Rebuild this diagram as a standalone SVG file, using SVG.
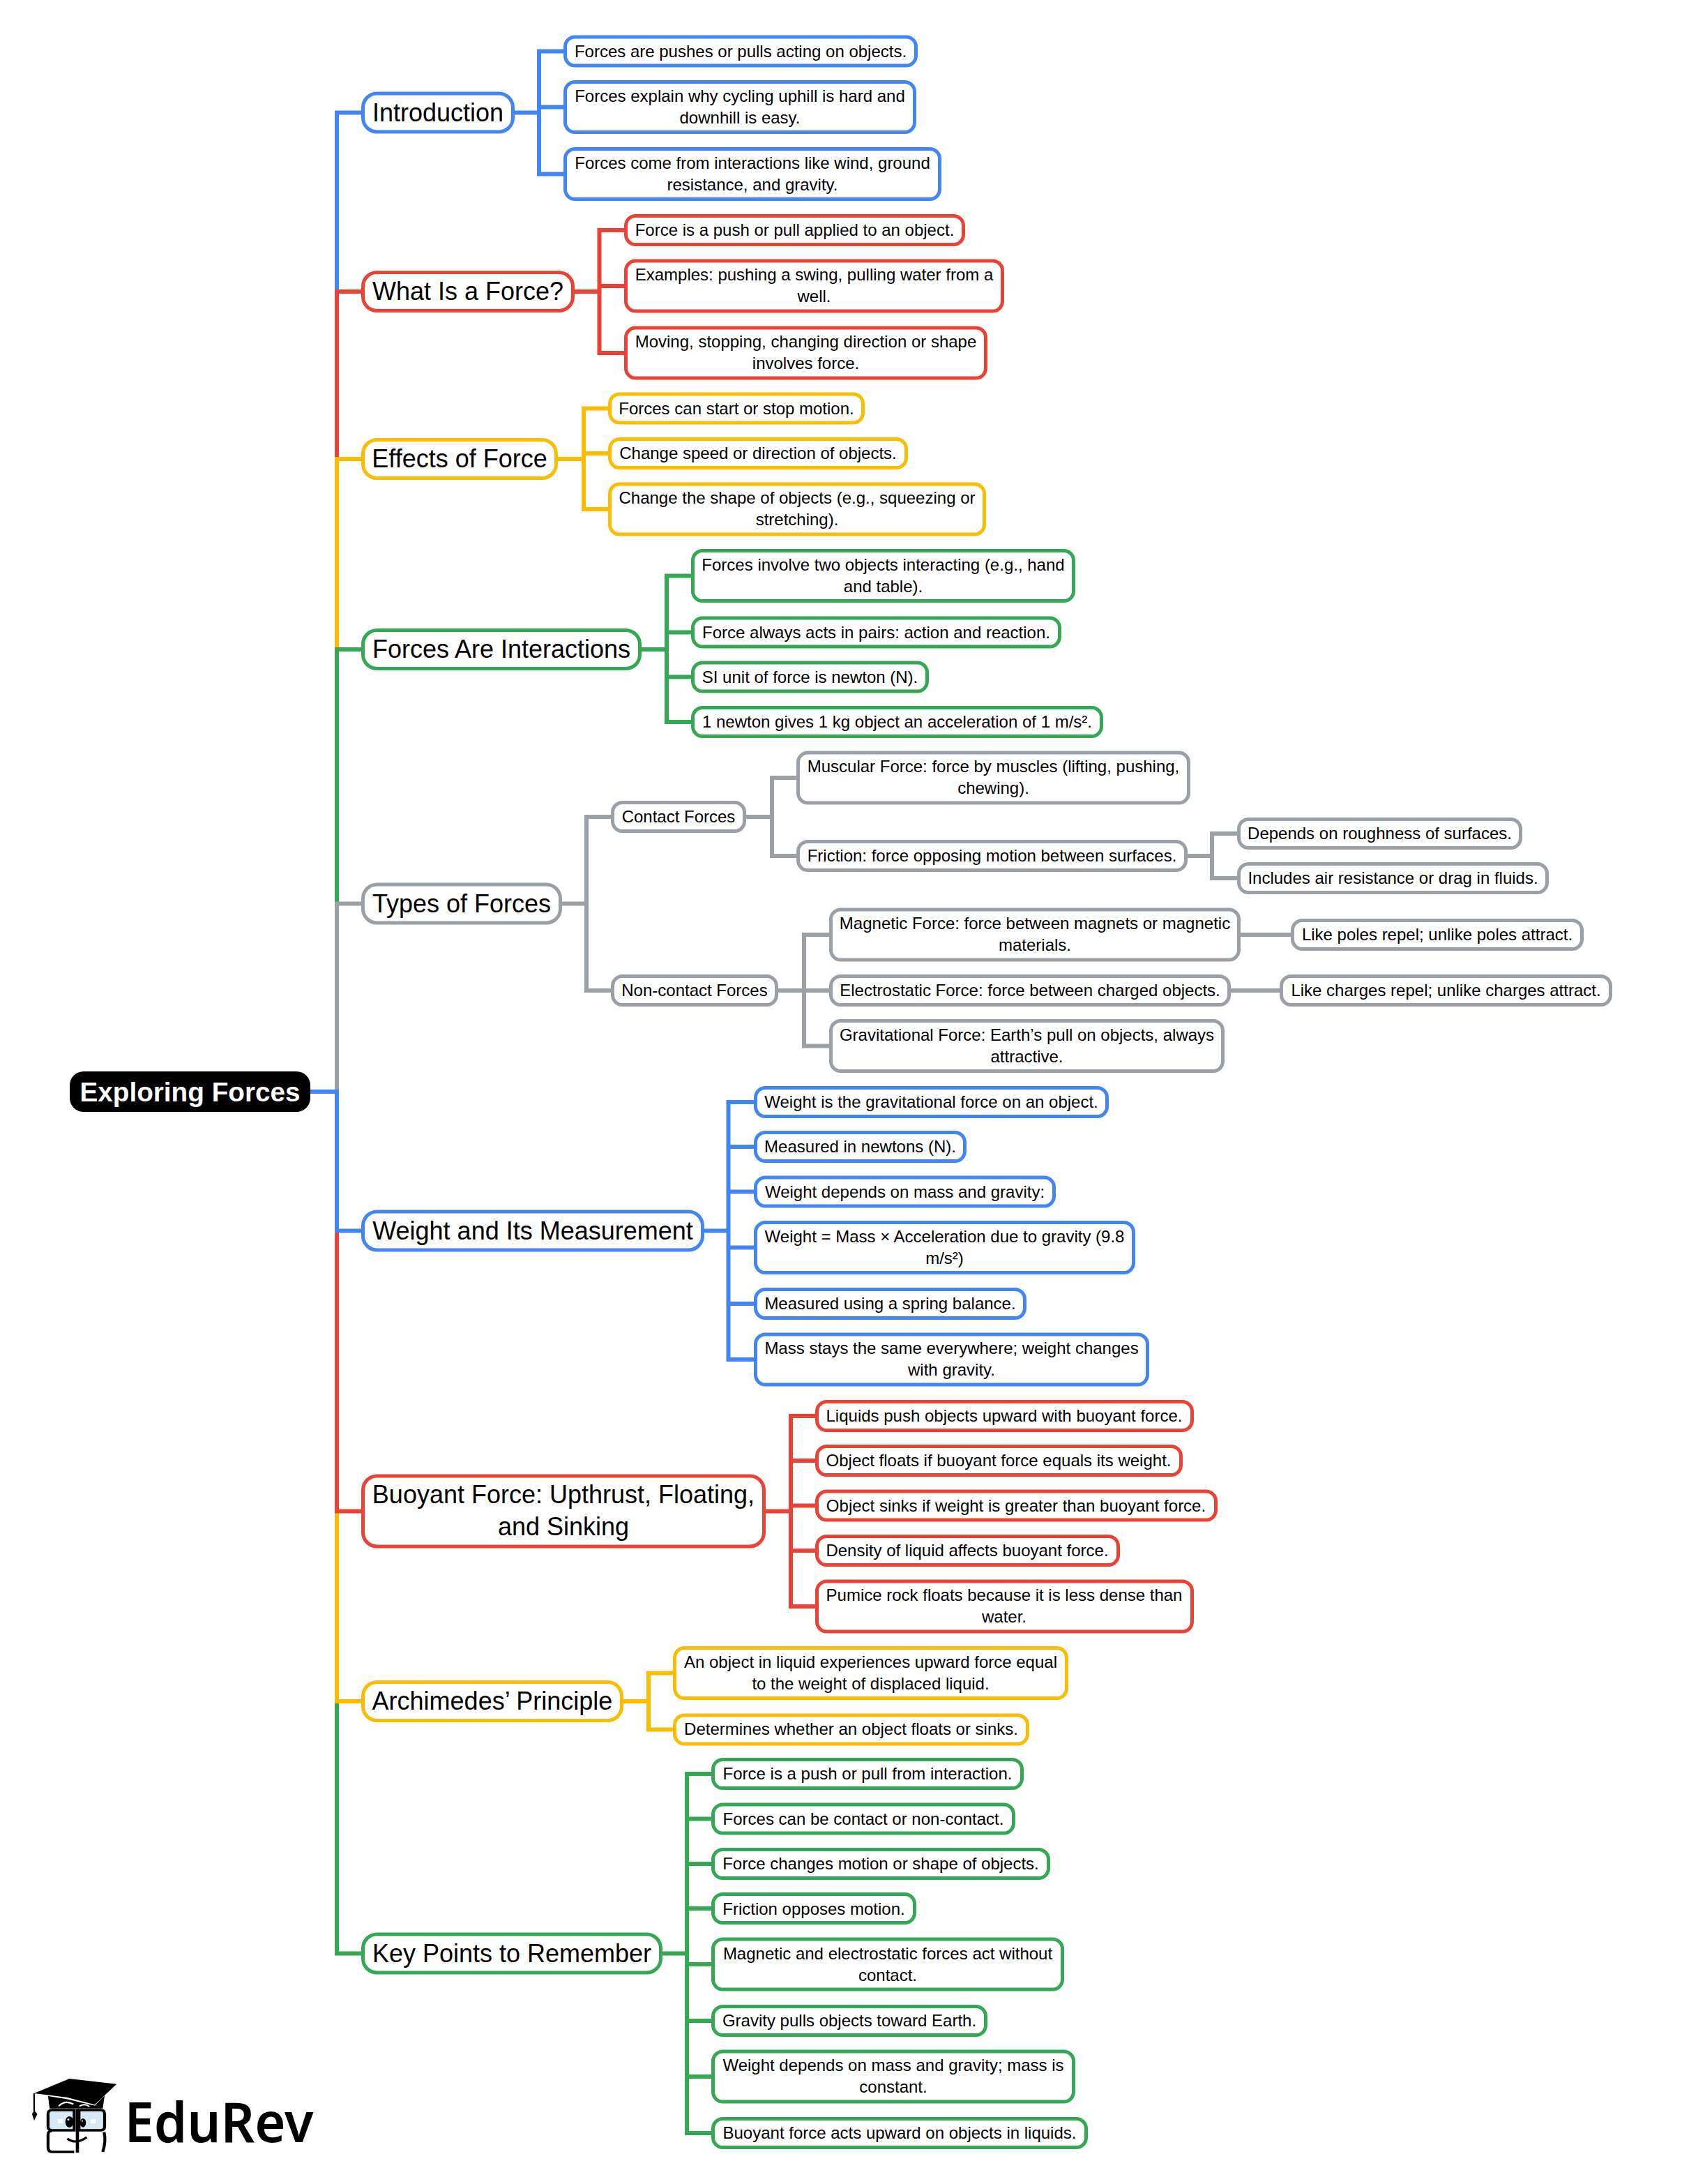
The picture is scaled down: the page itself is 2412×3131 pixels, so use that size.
<svg xmlns="http://www.w3.org/2000/svg" width="2412" height="3131" viewBox="0 0 2412 3131">
<style>
text{font-family:"Liberation Sans",Arial,sans-serif;font-size:24px;fill:#000;text-anchor:middle}
rect{fill:#fff;stroke-width:5;rx:14px;ry:14px}
.t1 rect{rx:20px;ry:20px}
.t1 text{font-size:36px}
.c path{fill:none;stroke-width:6;stroke-linejoin:miter}
.b rect{stroke:#4285F4}.r rect{stroke:#EA4335}.y rect{stroke:#FBBC04}.g rect{stroke:#34A853}.k rect{stroke:#9AA0A6}
path.b{stroke:#4285F4}path.r{stroke:#EA4335}path.y{stroke:#FBBC04}path.g{stroke:#34A853}path.k{stroke:#9AA0A6}
</style>
<rect x="12" y="2948" width="478" height="165" style="fill:#fefefe;stroke:none;rx:0;ry:0"/>
<g id="connectors" class="c">
<path class="b" d="M483 1565V161.500H518M738 161.500H773M808 73.500H773V249.500H808M773 153.500H808"/>
<path class="r" d="M483 658V418H518M824 418H859.500M895 330H859.500V506H895M859.500 410H895"/>
<path class="y" d="M483 931V658H518M800 658H837M872 585.500H837V730H872M837 650H872"/>
<path class="g" d="M483 1295.500V931H518M920 931H956M991 825.500H956V1035H991M956 906.500H991M956 970.500H991"/>
<path class="k" d="M483 1565V1295.500H518M806 1295.500H841M876 1171H841V1420H876M1070 1171H1107M1142 1115H1107V1227H1142M1703 1227H1738M1774 1195H1738V1259H1774M1116 1420H1153M1189 1340H1153V1499.500H1189M1153 1420H1189M1779 1340H1851M1765 1420H1835"/>
<path class="g" d="M518 2800.500H483V2439M950 2800.500H985M1020 2543H985V3058H1020M985 2607.500H1020M985 2672H1020M985 2736H1020M985 2816H1020M985 2897H1020M985 2977H1020"/>
<path class="y" d="M518 2439H483V2166.500M894 2439H930M965 2398.500H930V2479.500H965"/>
<path class="r" d="M518 2166.500H483V1764.500M1098 2166.500H1134M1169 2030H1134V2303H1169M1134 2094H1169M1134 2158.500H1169M1134 2223H1169"/>
<path class="b" d="M445 1565H483V1764.500H518M1010 1764.500H1044.500M1081 1580H1044.500V1949H1081M1044.500 1644H1081M1044.500 1708.500H1081M1044.500 1788.500H1081M1044.500 1869H1081"/>
</g>
<g id="root"><rect x="100" y="1536" width="345" height="58" style="fill:#000;stroke:none;rx:20px;ry:20px"/><text x="272.500" y="1579" style="font-size:38.700px;font-weight:700;fill:#fff">Exploring Forces</text></g>

<g id="n1" class="t1 b"><rect x="520.500" y="134" width="215" height="55"/><text x="628" y="173.500">Introduction</text></g>
<g id="n1a" class="b"><rect x="810.500" y="53" width="503" height="41"/><text x="1062" y="81.500">Forces are pushes or pulls acting on objects.</text></g>
<g id="n1b" class="b"><rect x="810.500" y="117.500" width="501" height="72"/><text x="1061" y="145.500">Forces explain why cycling uphill is hard and</text><text x="1061" y="176.500">downhill is easy.</text></g>
<g id="n1c" class="b"><rect x="810.500" y="213.500" width="537" height="72"/><text x="1079" y="241.500">Forces come from interactions like wind, ground</text><text x="1079" y="272.500">resistance, and gravity.</text></g>

<g id="n2" class="t1 r"><rect x="520.500" y="390.500" width="301" height="55"/><text x="671" y="430">What Is a Force?</text></g>
<g id="n2a" class="r"><rect x="897.500" y="309.500" width="484" height="41"/><text x="1139.500" y="337.500">Force is a push or pull applied to an object.</text></g>
<g id="n2b" class="r"><rect x="897.500" y="374" width="540" height="72"/><text x="1167.500" y="402">Examples: pushing a swing, pulling water from a</text><text x="1167.500" y="433">well.</text></g>
<g id="n2c" class="r"><rect x="897.500" y="470" width="516" height="72"/><text x="1155.500" y="498">Moving, stopping, changing direction or shape</text><text x="1155.500" y="529">involves force.</text></g>

<g id="n3" class="t1 y"><rect x="520.500" y="630.500" width="277" height="55"/><text x="659" y="670">Effects of Force</text></g>
<g id="n3a" class="y"><rect x="874.500" y="565" width="363" height="41"/><text x="1056" y="593.500">Forces can start or stop motion.</text></g>
<g id="n3b" class="y"><rect x="874.500" y="629.500" width="425" height="41"/><text x="1087" y="658">Change speed or direction of objects.</text></g>
<g id="n3c" class="y"><rect x="874.500" y="694" width="537" height="72"/><text x="1143" y="722">Change the shape of objects (e.g., squeezing or</text><text x="1143" y="753">stretching).</text></g>

<g id="n4" class="t1 g"><rect x="520.500" y="903.500" width="397" height="55"/><text x="719" y="943">Forces Are Interactions</text></g>
<g id="n4a" class="g"><rect x="993.500" y="789.500" width="546" height="72"/><text x="1266.500" y="817.500">Forces involve two objects interacting (e.g., hand</text><text x="1266.500" y="848.500">and table).</text></g>
<g id="n4b" class="g"><rect x="993.500" y="886" width="526" height="41"/><text x="1256.500" y="914.500">Force always acts in pairs: action and reaction.</text></g>
<g id="n4c" class="g"><rect x="993.500" y="950" width="336" height="41"/><text x="1161.500" y="978.500">SI unit of force is newton (N).</text></g>
<g id="n4d" class="g"><rect x="993.500" y="1014.500" width="586" height="41"/><text x="1286.500" y="1043">1 newton gives 1 kg object an acceleration of 1 m/s².</text></g>

<g id="n5" class="t1 k"><rect x="520.500" y="1268" width="283" height="55"/><text x="662" y="1307.500">Types of Forces</text></g>
<g id="n5a" class="k"><rect x="878.500" y="1150.500" width="189" height="41"/><text x="973" y="1179">Contact Forces</text></g>
<g id="n5a1" class="k"><rect x="1144.500" y="1079" width="560" height="72"/><text x="1424.500" y="1107">Muscular Force: force by muscles (lifting, pushing,</text><text x="1424.500" y="1138">chewing).</text></g>
<g id="n5a2" class="k"><rect x="1144.500" y="1206.500" width="556" height="41"/><text x="1422.500" y="1235">Friction: force opposing motion between surfaces.</text></g>
<g id="n5a2a" class="k"><rect x="1776.500" y="1174.500" width="404" height="41"/><text x="1978.500" y="1203">Depends on roughness of surfaces.</text></g>
<g id="n5a2b" class="k"><rect x="1776.500" y="1238.500" width="442" height="41"/><text x="1997.500" y="1267">Includes air resistance or drag in fluids.</text></g>
<g id="n5b" class="k"><rect x="878.500" y="1399.500" width="235" height="41"/><text x="996" y="1428">Non-contact Forces</text></g>
<g id="n5b1" class="k"><rect x="1191.500" y="1304" width="585" height="72"/><text x="1484" y="1332">Magnetic Force: force between magnets or magnetic</text><text x="1484" y="1363">materials.</text></g>
<g id="n5b1a" class="k"><rect x="1853.500" y="1319.500" width="415" height="41"/><text x="2061" y="1348">Like poles repel; unlike poles attract.</text></g>
<g id="n5b2" class="k"><rect x="1191.500" y="1399.500" width="571" height="41"/><text x="1477" y="1428">Electrostatic Force: force between charged objects.</text></g>
<g id="n5b2a" class="k"><rect x="1837.500" y="1399.500" width="472" height="41"/><text x="2073.500" y="1428">Like charges repel; unlike charges attract.</text></g>
<g id="n5b3" class="k"><rect x="1191.500" y="1463.500" width="562" height="72"/><text x="1472.500" y="1491.500">Gravitational Force: Earth’s pull on objects, always</text><text x="1472.500" y="1522.500">attractive.</text></g>

<g id="n6" class="t1 b"><rect x="520.500" y="1737" width="487" height="55"/><text x="764" y="1776.500">Weight and Its Measurement</text></g>
<g id="n6a" class="b"><rect x="1083.500" y="1559.500" width="504" height="41"/><text x="1335.500" y="1588">Weight is the gravitational force on an object.</text></g>
<g id="n6b" class="b"><rect x="1083.500" y="1623.500" width="300" height="41"/><text x="1233.500" y="1652">Measured in newtons (N).</text></g>
<g id="n6c" class="b"><rect x="1083.500" y="1688" width="428" height="41"/><text x="1297.500" y="1716.500">Weight depends on mass and gravity:</text></g>
<g id="n6d" class="b"><rect x="1083.500" y="1752.500" width="542" height="72"/><text x="1354.500" y="1780.500">Weight = Mass × Acceleration due to gravity (9.8</text><text x="1354.500" y="1811.500">m/s²)</text></g>
<g id="n6e" class="b"><rect x="1083.500" y="1848.500" width="386" height="41"/><text x="1276.500" y="1877">Measured using a spring balance.</text></g>
<g id="n6f" class="b"><rect x="1083.500" y="1913" width="562" height="72"/><text x="1364.500" y="1941">Mass stays the same everywhere; weight changes</text><text x="1364.500" y="1972">with gravity.</text></g>

<g id="n7" class="t1 r"><rect x="520.500" y="2116" width="575" height="101"/><text x="808" y="2155">Buoyant Force: Upthrust, Floating,</text><text x="808" y="2201">and Sinking</text></g>
<g id="n7a" class="r"><rect x="1171.500" y="2009.500" width="538" height="41"/><text x="1440" y="2037.500">Liquids push objects upward with buoyant force.</text></g>
<g id="n7b" class="r"><rect x="1171.500" y="2073.500" width="522" height="41"/><text x="1432" y="2102">Object floats if buoyant force equals its weight.</text></g>
<g id="n7c" class="r"><rect x="1171.500" y="2138" width="572" height="41"/><text x="1457" y="2166.500">Object sinks if weight is greater than buoyant force.</text></g>
<g id="n7d" class="r"><rect x="1171.500" y="2202.500" width="432" height="41"/><text x="1387" y="2231">Density of liquid affects buoyant force.</text></g>
<g id="n7e" class="r"><rect x="1171.500" y="2267" width="538" height="72"/><text x="1440" y="2295">Pumice rock floats because it is less dense than</text><text x="1440" y="2326">water.</text></g>

<g id="n8" class="t1 y"><rect x="520.500" y="2411.500" width="371" height="55"/><text x="706" y="2451">Archimedes’ Principle</text></g>
<g id="n8a" class="y"><rect x="967.500" y="2362.500" width="562" height="72"/><text x="1248.500" y="2390.500">An object in liquid experiences upward force equal</text><text x="1248.500" y="2421.500">to the weight of displaced liquid.</text></g>
<g id="n8b" class="y"><rect x="967.500" y="2459" width="506" height="41"/><text x="1220.500" y="2487">Determines whether an object floats or sinks.</text></g>

<g id="n9" class="t1 g"><rect x="520.500" y="2773" width="427" height="55"/><text x="734" y="2812.500">Key Points to Remember</text></g>
<g id="n9a" class="g"><rect x="1022.500" y="2522.500" width="443" height="41"/><text x="1244" y="2551">Force is a push or pull from interaction.</text></g>
<g id="n9b" class="g"><rect x="1022.500" y="2587" width="431" height="41"/><text x="1238" y="2615.500">Forces can be contact or non-contact.</text></g>
<g id="n9c" class="g"><rect x="1022.500" y="2651.500" width="481" height="41"/><text x="1263" y="2680">Force changes motion or shape of objects.</text></g>
<g id="n9d" class="g"><rect x="1022.500" y="2715.500" width="289" height="41"/><text x="1167" y="2744.500">Friction opposes motion.</text></g>
<g id="n9e" class="g"><rect x="1022.500" y="2780" width="501" height="72"/><text x="1273" y="2808.500">Magnetic and electrostatic forces act without</text><text x="1273" y="2839.500">contact.</text></g>
<g id="n9f" class="g"><rect x="1022.500" y="2876.500" width="391" height="41"/><text x="1218" y="2905">Gravity pulls objects toward Earth.</text></g>
<g id="n9g" class="g"><rect x="1022.500" y="2941" width="517" height="72"/><text x="1281" y="2969">Weight depends on mass and gravity; mass is</text><text x="1281" y="3000">constant.</text></g>
<g id="n9h" class="g"><rect x="1022.500" y="3037.500" width="535" height="41"/><text x="1290" y="3066">Buoyant force acts upward on objects in liquids.</text></g>

<g id="logo">
<g transform="translate(0,2900) scale(.3827,.3333)">
<path d="M128 303L260 240L437 263L355 352L250 320Z" fill="#000"/>
<path d="M180 315L250 328L355 356L392 312L385 368H186Z" fill="#000"/>
<path d="M128 303V378" fill="none" stroke="#000" stroke-width="6"/>
<path d="M128 376L140 392L128 420L120 392Z" fill="#000"/>
<path d="M220 358Q245 330 275 350M298 358Q318 345 335 360" fill="none" stroke="#fff" stroke-width="6"/>
<path d="M195 375H278V462H195Q180 462 180 445V392Q180 375 195 375ZM296 375H378Q392 375 392 392V445Q392 462 378 462H296Z" fill="#d5e9f7" stroke="#000" stroke-width="11"/>
<path d="M278 555H195Q180 555 180 535V480Q180 465 195 465M390 470Q398 510 385 555" fill="none" stroke="#000" stroke-width="11"/>
<path d="M290 370V558" fill="none" stroke="#000" stroke-width="12"/>
<ellipse cx="260" cy="426" rx="15" ry="24" fill="#000"/><ellipse cx="311" cy="430" rx="11" ry="19" fill="#000"/>
<circle cx="256" cy="416" r="4" fill="#fff"/><circle cx="308" cy="422" r="3" fill="#fff"/>
<path d="M217 414h18v18h-18zM340 414h18v18h-18z" fill="#fff"/>
<path d="M252 498Q285 525 325 492" fill="none" stroke="#000" stroke-width="9"/>
</g>
<text x="178.500" y="3071" style="font-family:'Noto Sans',sans-serif;font-size:80px;font-weight:600;text-anchor:start" textLength="271" lengthAdjust="spacingAndGlyphs">EduRev</text>
</g>
</svg>
